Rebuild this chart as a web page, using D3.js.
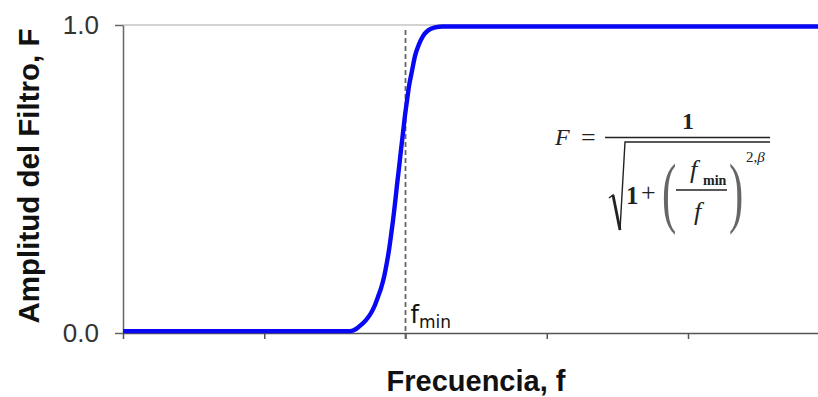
<!DOCTYPE html>
<html>
<head>
<meta charset="utf-8">
<script src="https://cdn.jsdelivr.net/npm/d3@7"></script>
<style>
  html, body { margin: 0; padding: 0; background: #fff; }
  svg { display: block; }
</style>
</head>
<body>
<svg id="chart" width="818" height="397"></svg>
<script>
// Filter response curve: frequency (axis units) and amplitude F
const freq = [0, 1.607, 1.650, 1.685, 1.720, 1.756, 1.784, 1.805, 1.827, 1.848, 1.869, 1.883,
  1.897, 1.912, 1.926, 1.940, 1.954, 1.968, 1.982, 1.996, 2.011, 2.025, 2.046, 2.067, 2.096,
  2.124, 2.159, 2.209, 2.265, 5.0];
const amplitude = [0.006, 0.006, 0.013, 0.026, 0.042, 0.065, 0.091, 0.117, 0.146, 0.182, 0.231,
  0.269, 0.315, 0.367, 0.422, 0.481, 0.536, 0.594, 0.649, 0.705, 0.756, 0.802, 0.851, 0.899,
  0.938, 0.964, 0.982, 0.992, 0.995, 0.995];
const xTicks = [0, 1, 2, 3, 4, 5];
const yTicks = [0, 1];
const fMin = 2;

const svg = d3.select("#chart");

const x = d3.scaleLinear().domain([0, 5]).range([123, 829.25]);
const y = d3.scaleLinear().domain([0, 1]).range([333, 25]);

// top border line at F = 1
svg.append("line")
  .attr("x1", x(0)).attr("x2", x(5))
  .attr("y1", y(1)).attr("y2", y(1))
  .attr("stroke", "#a8a8a8").attr("stroke-width", 1.2);

// x axis (unlabelled ticks)
const xAxis = svg.append("g")
  .attr("transform", `translate(0,${y(0)})`)
  .call(d3.axisBottom(x).tickValues(xTicks).tickFormat("").tickSizeInner(6).tickSizeOuter(0));
xAxis.select(".domain").attr("stroke", "#555").attr("stroke-width", 1.5);
xAxis.selectAll(".tick line").attr("stroke", "#555").attr("stroke-width", 1.5);

// y axis
const yAxis = svg.append("g")
  .attr("transform", `translate(${x(0)},0)`)
  .call(d3.axisLeft(y).tickValues(yTicks).tickFormat(d3.format(".1f")).tickSizeInner(8).tickSizeOuter(0).tickPadding(16));
yAxis.select(".domain").attr("stroke", "#666").attr("stroke-width", 1.5);
yAxis.selectAll(".tick line").attr("stroke", "#666").attr("stroke-width", 1.5);
yAxis.selectAll(".tick text")
  .attr("font-family", "'Liberation Sans', Arial, sans-serif")
  .attr("font-size", 26)
  .attr("fill", "#333");

// dashed marker at f_min
svg.append("line")
  .attr("x1", x(fMin)).attr("x2", x(fMin))
  .attr("y1", 30).attr("y2", y(0) + 6)
  .attr("stroke", "#666").attr("stroke-width", 1.8)
  .attr("stroke-dasharray", "5,3");

// response curve
const line = d3.line()
  .x((d, i) => x(freq[i]))
  .y((d, i) => y(amplitude[i]))
  .curve(d3.curveMonotoneX);
svg.append("path")
  .datum(freq)
  .attr("d", line)
  .attr("fill", "none")
  .attr("stroke", "#0808f5")
  .attr("stroke-width", 4.4)
  .attr("stroke-linejoin", "round");

// f_min label
const fl = svg.append("text")
  .attr("x", x(fMin) + 5).attr("y", 323)
  .attr("font-family", "'DejaVu Sans', Tahoma, sans-serif")
  .attr("fill", "#111");
fl.append("tspan").attr("font-size", 24).text("f");
fl.append("tspan").attr("font-size", 17).attr("dy", 5).text("min");

// axis titles
svg.append("text")
  .attr("x", 476).attr("y", 391)
  .attr("text-anchor", "middle")
  .attr("font-family", "'Liberation Sans', Arial, sans-serif")
  .attr("font-weight", "bold")
  .attr("font-size", 29)
  .attr("fill", "#111")
  .text("Frecuencia, f");

svg.append("text")
  .attr("transform", "translate(39,176) rotate(-90)")
  .attr("text-anchor", "middle")
  .attr("font-family", "'Liberation Sans', Arial, sans-serif")
  .attr("font-weight", "bold")
  .attr("font-size", 29.5)
  .attr("fill", "#111")
  .text("Amplitud del Filtro, F");

// formula F = 1 / sqrt(1 + (f_min / f)^(2β))
const eq = svg.append("g")
  .attr("font-family", "'Liberation Serif', 'Times New Roman', serif")
  .attr("fill", "#222");
eq.append("text").attr("x", 555).attr("y", 145).attr("font-size", 24)
  .attr("font-style", "italic").text("F");
eq.append("text").attr("x", 581).attr("y", 146).attr("font-size", 26).text("=");
eq.append("text").attr("x", 688).attr("y", 129).attr("font-size", 24)
  .attr("font-weight", "bold").attr("text-anchor", "middle").text("1");
// fraction bar
eq.append("line").attr("x1", 605).attr("x2", 770).attr("y1", 137.5).attr("y2", 137.5)
  .attr("stroke", "#222").attr("stroke-width", 1.5);
// radical sign
eq.append("path")
  .attr("d", "M609,198 L613,195 L620,230 L625,142 L770,142")
  .attr("fill", "none").attr("stroke", "#222").attr("stroke-width", 1.4);
eq.append("path")
  .attr("d", "M613,195 L620,230")
  .attr("fill", "none").attr("stroke", "#222").attr("stroke-width", 2.8);
eq.append("text").attr("x", 626).attr("y", 204).attr("font-size", 25)
  .attr("font-weight", "bold").text("1");
eq.append("text").attr("x", 641).attr("y", 201).attr("font-size", 26).text("+");
// large parentheses
eq.append("text").attr("x", 662).attr("y", 218).attr("font-size", 78)
  .attr("fill", "#666")
  .attr("transform", "translate(662,190) scale(0.55,1) translate(-662,-190)").text("(");
eq.append("text").attr("x", 729).attr("y", 218).attr("font-size", 78)
  .attr("fill", "#666")
  .attr("transform", "translate(729,190) scale(0.55,1) translate(-729,-190)").text(")");
// inner fraction f_min / f
eq.append("text").attr("x", 690).attr("y", 178).attr("font-size", 26)
  .attr("font-style", "italic").text("f");
eq.append("text").attr("x", 703).attr("y", 185).attr("font-size", 14)
  .attr("font-weight", "bold").text("min");
eq.append("line").attr("x1", 676).attr("x2", 727).attr("y1", 190).attr("y2", 190)
  .attr("stroke", "#222").attr("stroke-width", 1.3);
eq.append("text").attr("x", 694).attr("y", 220).attr("font-size", 26)
  .attr("font-style", "italic").text("f");
// exponent 2β
const ex = eq.append("text").attr("x", 746).attr("y", 162).attr("font-size", 15);
ex.append("tspan").text("2,");
ex.append("tspan").attr("font-style", "italic").text("β");
</script>
</body>
</html>
